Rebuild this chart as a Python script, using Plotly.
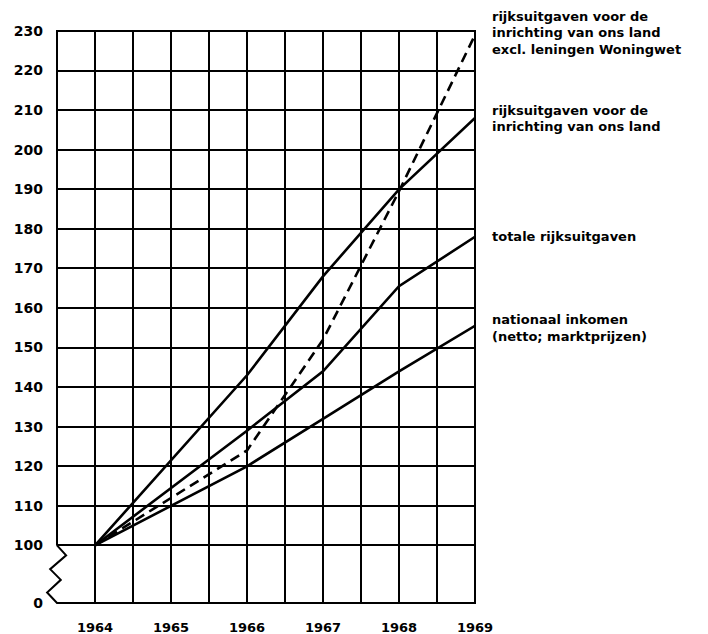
import plotly.graph_objects as go

# ---- data (index numbers, 1964 = 100) ----
years = [1964, 1966, 1967, 1968, 1969]
inrichting_excl = [100, 124, 152, 189.5, 229]     # dashed
inrichting = [100, 143, 168, 190, 208]
totale = [100, 129, 144, 165.5, 178]
nationaal = [100, 120, 132, 144, 155.5]

x_tick_vals = [1964, 1965, 1966, 1967, 1968, 1969]
x_tick_text = ["1964", "1965", "1966", "1967", "1968", "1969"]
y_tick_text = ["0", "100", "110", "120", "130", "140", "150", "160", "170",
               "180", "190", "200", "210", "220", "230"]

# series labels, one entry per printed line, placed at the height (index units)
label_lines = [
    ("rijksuitgaven voor de", 233.6),
    ("inrichting van ons land", 229.5),
    ("excl. leningen Woningwet", 225.4),
    ("rijksuitgaven voor de", 210.0),
    ("inrichting van ons land", 205.8),
    ("totale rijksuitgaven", 178.0),
    ("nationaal inkomen", 157.0),
    ("(netto; marktprijzen)", 152.8),
]

# ---- axis geometry ----
X0, X1 = 1963.5, 1969
Y_ZERO = 85.45          # position that carries the "0" label (axis break)
Y0, Y1 = Y_ZERO, 230
y_tick_vals = [Y_ZERO] + list(range(100, 231, 10))

FONT = "DejaVu Sans"
INK = "black"

fig = go.Figure()
series = [
    (inrichting_excl, "10px,6px"),
    (inrichting, "solid"),
    (totale, "solid"),
    (nationaal, "solid"),
]
for vals, dash in series:
    fig.add_trace(go.Scatter(
        x=years, y=vals, mode="lines",
        line=dict(color=INK, width=2.6, dash=dash),
        showlegend=False, hoverinfo="skip",
    ))


def px(x):
    return (x - X0) / (X1 - X0)


def py(y):
    return (y - Y0) / (Y1 - Y0)


# frame with the axis break (zig-zag) at the lower left
zig = [(0.0, 100), (0.12, 97.5), (-0.09, 94.0), (0.05, 91.3), (-0.13, 88.1), (0.0, Y_ZERO)]
path = f"M {px(X0)} {py(100)} L {px(X0)} 1 L 1 1 L 1 0 L {px(X0)} 0"
for dx, yy in reversed(zig):
    path += f" L {px(X0 + dx)} {py(yy)}"
fig.add_shape(type="path", path=path, xref="paper", yref="paper",
              line=dict(color=INK, width=2), layer="above")

for txt, yv in label_lines:
    fig.add_annotation(
        text=txt, x=1.037, xref="paper", y=py(yv), yref="paper",
        xanchor="left", yanchor="middle", align="left", showarrow=False,
        font=dict(family=FONT, size=13, color=INK, weight="bold"),
    )

# the page body has an 8px margin, so the figure is offset by (8, 8)
fig.update_layout(
    width=700, height=626,
    margin=dict(l=49, r=233, t=23, b=31),
    paper_bgcolor="white", plot_bgcolor="white",
    xaxis=dict(
        range=[X0, X1], tickvals=x_tick_vals, ticktext=x_tick_text,
        showgrid=True, gridcolor=INK, gridwidth=1.6,
        minor=dict(dtick=0.5, tick0=1964, showgrid=True, gridcolor=INK, gridwidth=1.6),
        zeroline=False, showline=False, ticks="", automargin=False,
        ticklabelstandoff=15,
        tickfont=dict(family=FONT, size=13, color=INK, weight="bold"),
    ),
    yaxis=dict(
        range=[Y0, Y1], tickvals=y_tick_vals, ticktext=y_tick_text,
        showgrid=True, gridcolor=INK, gridwidth=1.6,
        zeroline=False, showline=False, ticks="", automargin=False,
        ticklabelstandoff=13,
        tickfont=dict(family=FONT, size=14, color=INK, weight="bold"),
    ),
)

fig.write_html("out.html")
